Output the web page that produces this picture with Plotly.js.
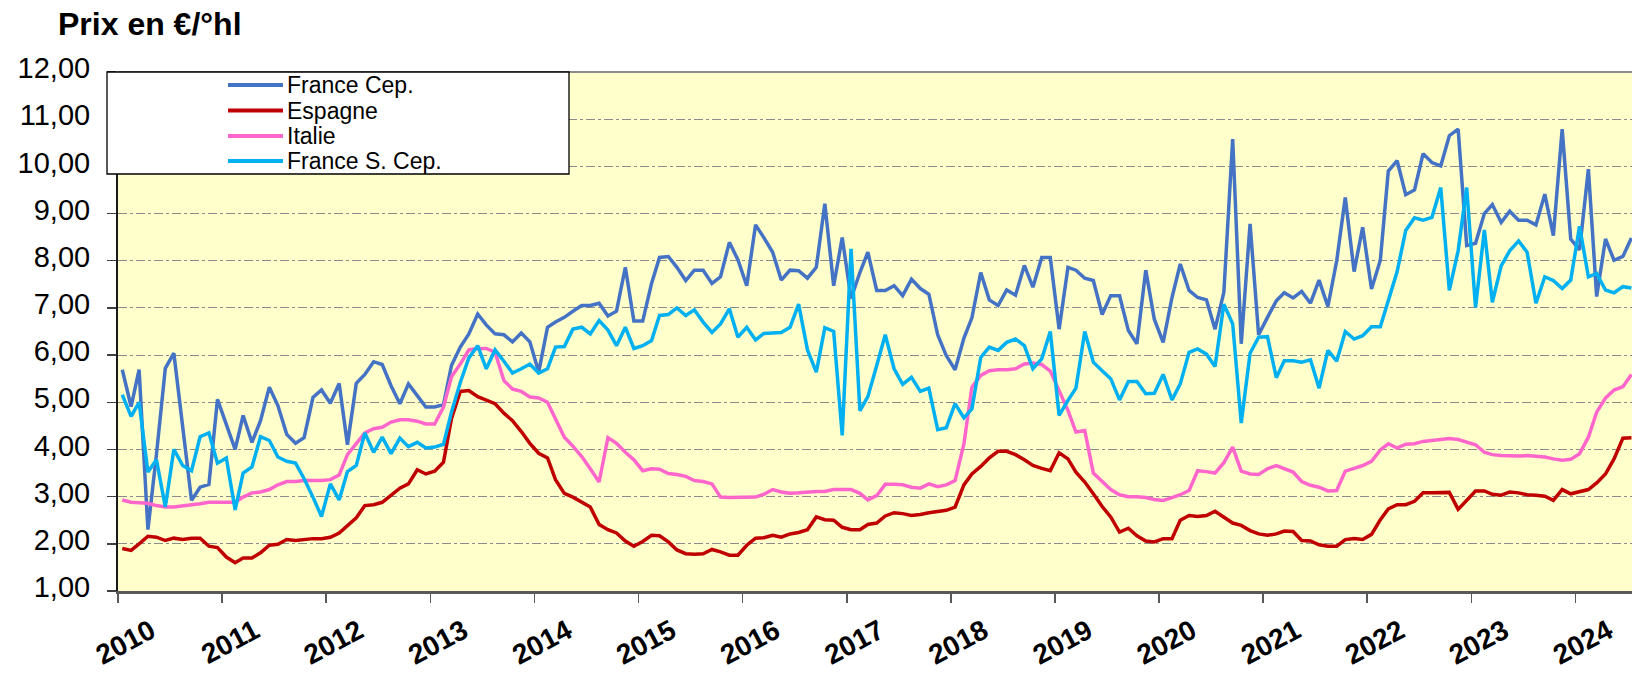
<!DOCTYPE html>
<html>
<head>
<meta charset="utf-8">
<script src="https://cdn.plot.ly/plotly-3.0.1.min.js"></script>
<style>
html,body{margin:0;padding:0;background:#ffffff;}
#chart{width:1632px;height:674px;}
</style>
</head>
<body>
<div id="chart"></div>
<script>
// ---------- DATA ----------
const startYear = 2010;
const yearTicks = ['2010','2011','2012','2013','2014','2015','2016','2017','2018','2019','2020','2021','2022','2023','2024'];
const seriesNames = ['France Cep.', 'Espagne', 'Italie', 'France S. Cep.'];

const franceCep = [
  5.69, 4.91, 5.69, 2.30, 3.90, 5.72, 6.04, 4.40, 2.92, 3.20, 3.26, 5.06,
  4.54, 4.00, 4.72, 4.15, 4.61, 5.32, 4.93, 4.32, 4.13, 4.25, 5.10, 5.26,
  4.98, 5.40, 4.10, 5.40, 5.59, 5.86, 5.80, 5.35, 4.97, 5.39, 5.14, 4.90,
  4.90, 4.95, 5.78, 6.17, 6.45, 6.87, 6.64, 6.45, 6.43, 6.28, 6.47, 6.28,
  5.64, 6.59, 6.70, 6.80, 6.93, 7.05, 7.05, 7.10, 6.83, 6.93, 7.86, 6.72,
  6.72, 7.52, 8.07, 8.09, 7.86, 7.58, 7.80, 7.80, 7.52, 7.66, 8.39, 8.02,
  7.47, 8.76, 8.49, 8.18, 7.59, 7.80, 7.79, 7.63, 7.86, 9.21, 7.47, 8.49,
  7.20, 7.75, 8.18, 7.37, 7.37, 7.47, 7.26, 7.61, 7.41, 7.29, 6.43, 5.99,
  5.69, 6.36, 6.79, 7.75, 7.17, 7.05, 7.38, 7.27, 7.90, 7.44, 8.07, 8.07,
  6.55, 7.86, 7.80, 7.63, 7.58, 6.86, 7.26, 7.26, 6.52, 6.24, 7.80, 6.76,
  6.27, 7.22, 7.93, 7.37, 7.22, 7.17, 6.55, 7.33, 10.58, 6.24, 8.78, 6.43,
  6.80, 7.15, 7.32, 7.21, 7.35, 7.10, 7.59, 7.03, 8.00, 9.34, 7.77, 8.71,
  7.40, 8.01, 9.90, 10.12, 9.40, 9.50, 10.27, 10.08, 10.01, 10.65, 10.79, 8.32,
  8.37, 9.00, 9.19, 8.81, 9.05, 8.86, 8.86, 8.76, 9.41, 8.53, 10.79, 8.46,
  8.23, 9.94, 7.24, 8.46, 8.01, 8.09, 8.48
];

const espagne = [
  1.90, 1.86, 2.00, 2.16, 2.14, 2.07, 2.12, 2.09, 2.12, 2.12, 1.95, 1.92,
  1.72, 1.60, 1.70, 1.70, 1.81, 1.97, 1.99, 2.09, 2.07, 2.09, 2.11, 2.11,
  2.14, 2.23, 2.39, 2.55, 2.81, 2.83, 2.88, 3.03, 3.18, 3.27, 3.57, 3.48,
  3.54, 3.73, 4.65, 5.23, 5.25, 5.12, 5.05, 4.97, 4.77, 4.61, 4.38, 4.13,
  3.92, 3.82, 3.36, 3.07, 2.99, 2.88, 2.78, 2.41, 2.30, 2.23, 2.06, 1.95,
  2.05, 2.18, 2.17, 2.04, 1.87, 1.79, 1.78, 1.79, 1.88, 1.83, 1.76, 1.76,
  1.97, 2.12, 2.13, 2.18, 2.14, 2.21, 2.24, 2.30, 2.57, 2.51, 2.50, 2.35,
  2.30, 2.30, 2.41, 2.44, 2.59, 2.66, 2.64, 2.60, 2.62, 2.66, 2.69, 2.71,
  2.78, 3.25, 3.48, 3.64, 3.82, 3.96, 3.96, 3.89, 3.78, 3.66, 3.60, 3.55,
  3.93, 3.80, 3.52, 3.31, 3.06, 2.79, 2.57, 2.25, 2.33, 2.17, 2.06, 2.04,
  2.11, 2.11, 2.50, 2.60, 2.58, 2.60, 2.69, 2.57, 2.44, 2.39, 2.28, 2.21,
  2.18, 2.21, 2.27, 2.26, 2.07, 2.06, 1.98, 1.95, 1.95, 2.09, 2.11, 2.09,
  2.20, 2.51, 2.74, 2.83, 2.83, 2.90, 3.08, 3.08, 3.09, 3.09, 2.73, 2.92,
  3.12, 3.12, 3.05, 3.03, 3.10, 3.08, 3.04, 3.03, 3.01, 2.92, 3.15, 3.06,
  3.10, 3.15, 3.29, 3.48, 3.80, 4.24, 4.25
];

const italie = [
  2.93, 2.88, 2.87, 2.86, 2.81, 2.78, 2.78, 2.80, 2.83, 2.85, 2.88, 2.88,
  2.88, 2.88, 2.99, 3.08, 3.10, 3.15, 3.25, 3.32, 3.32, 3.34, 3.34, 3.34,
  3.36, 3.46, 3.89, 4.13, 4.35, 4.44, 4.47, 4.58, 4.63, 4.63, 4.60, 4.54,
  4.54, 4.90, 5.54, 5.81, 6.11, 6.14, 6.14, 6.06, 5.46, 5.28, 5.23, 5.11,
  5.09, 5.00, 4.65, 4.26, 4.07, 3.85, 3.59, 3.31, 4.25, 4.13, 3.94, 3.78,
  3.55, 3.59, 3.58, 3.49, 3.47, 3.43, 3.34, 3.32, 3.27, 2.99, 2.98, 2.98,
  2.99, 2.99, 3.05, 3.15, 3.10, 3.07, 3.08, 3.10, 3.11, 3.11, 3.15, 3.15,
  3.15, 3.07, 2.93, 3.02, 3.26, 3.26, 3.25, 3.20, 3.18, 3.27, 3.21, 3.25,
  3.34, 4.12, 5.32, 5.57, 5.67, 5.69, 5.69, 5.71, 5.81, 5.83, 5.80, 5.66,
  5.25, 4.83, 4.37, 4.40, 3.50, 3.31, 3.15, 3.04, 3.00, 3.00, 2.98, 2.94,
  2.92, 2.98, 3.04, 3.13, 3.55, 3.53, 3.50, 3.72, 4.05, 3.54, 3.48, 3.47,
  3.59, 3.66, 3.59, 3.52, 3.32, 3.24, 3.20, 3.12, 3.13, 3.54, 3.60, 3.66,
  3.75, 3.99, 4.12, 4.03, 4.11, 4.12, 4.17, 4.19, 4.21, 4.23, 4.21, 4.15,
  4.10, 3.94, 3.89, 3.87, 3.86, 3.86, 3.87, 3.86, 3.84, 3.80, 3.77, 3.79,
  3.91, 4.26, 4.79, 5.09, 5.26, 5.33, 5.59
];

const franceSCep = [
  5.16, 4.70, 5.00, 3.52, 3.78, 2.78, 4.00, 3.66, 3.55, 4.27, 4.35, 3.71,
  3.82, 2.72, 3.50, 3.63, 4.27, 4.19, 3.84, 3.75, 3.71, 3.38, 2.99, 2.58,
  3.27, 2.93, 3.53, 3.66, 4.35, 3.94, 4.26, 3.91, 4.24, 4.06, 4.15, 4.03,
  4.05, 4.11, 4.79, 5.42, 5.94, 6.20, 5.71, 6.11, 5.87, 5.62, 5.71, 5.81,
  5.62, 5.71, 6.17, 6.18, 6.55, 6.59, 6.45, 6.73, 6.53, 6.20, 6.59, 6.14,
  6.20, 6.31, 6.84, 6.86, 7.00, 6.84, 6.96, 6.70, 6.48, 6.66, 6.98, 6.38,
  6.59, 6.32, 6.46, 6.47, 6.48, 6.59, 7.08, 6.11, 5.64, 6.58, 6.50, 4.30,
  8.25, 4.82, 5.12, 5.78, 6.43, 5.71, 5.38, 5.53, 5.23, 5.30, 4.42, 4.46,
  4.97, 4.67, 4.86, 5.95, 6.17, 6.10, 6.27, 6.34, 6.20, 5.71, 5.92, 6.50,
  4.72, 5.04, 5.30, 6.50, 5.85, 5.67, 5.50, 5.05, 5.44, 5.44, 5.18, 5.19,
  5.59, 5.05, 5.39, 6.06, 6.13, 6.02, 5.76, 7.08, 6.66, 4.56, 6.04, 6.38,
  6.39, 5.52, 5.88, 5.88, 5.85, 5.90, 5.30, 6.10, 5.87, 6.50, 6.34, 6.41,
  6.60, 6.60, 7.15, 7.77, 8.64, 8.91, 8.86, 8.92, 9.55, 7.37, 8.21, 9.55,
  7.01, 8.65, 7.12, 7.89, 8.21, 8.42, 8.18, 7.10, 7.66, 7.58, 7.41, 7.59,
  8.73, 7.66, 7.73, 7.38, 7.32, 7.45, 7.42
];

// months (categories): one per value, mid-month dates
const months = franceCep.map((_, i) => {
  const y = startYear + Math.floor(i / 12);
  const m = String(i % 12 + 1).padStart(2, '0');
  return y + '-' + m + '-16';
});

// ---------- STYLE ----------
const FONT = 'Liberation Sans, Arial, Helvetica, sans-serif';
const colors = ['#4472C4', '#C00000', '#FF66CC', '#00B0F0'];
const allSeries = [franceCep, espagne, italie, franceSCep];

const W = 1632, H = 674;
const M = {l: 118, r: 0, t: 72, b: 83};
const PW = W - M.l - M.r, PH = H - M.t - M.b;
const px2x = p => (p - M.l) / PW;
const py2y = p => (H - M.b - p) / PH;

const traces = allSeries.map((vals, k) => ({
  type: 'scatter',
  mode: 'lines',
  name: seriesNames[k],
  x: months,
  y: vals,
  line: {color: colors[k], width: 3.5},
  showlegend: false,
  hoverinfo: 'x+y+name'
}));

// custom legend box (Excel style)
const legendRows = [85, 110.5, 136, 161];
const shapes = [
  {type: 'line', xref: 'paper', yref: 'paper', x0: 0, x1: 1, y0: 1, y1: 1,
   line: {color: '#8c8c8c', width: 2}, layer: 'above'},
  {type: 'rect', xref: 'paper', yref: 'paper',
   x0: px2x(107), x1: px2x(569), y0: py2y(174), y1: py2y(72),
   fillcolor: '#ffffff', line: {color: '#000000', width: 1.3}, layer: 'above'}
];
const annotations = [];
seriesNames.forEach((nm, k) => {
  shapes.push({type: 'line', xref: 'paper', yref: 'paper',
    x0: px2x(228), x1: px2x(283), y0: py2y(legendRows[k]), y1: py2y(legendRows[k]),
    line: {color: colors[k], width: 4}, layer: 'above'});
  annotations.push({xref: 'paper', yref: 'paper', x: px2x(285), y: py2y(legendRows[k]),
    xanchor: 'left', yanchor: 'middle', showarrow: false, text: nm,
    font: {family: FONT, size: 23, color: '#000000'}});
});

const layout = {
  width: W, height: H,
  margin: {l: M.l, r: M.r, t: M.t, b: M.b, pad: 0},
  paper_bgcolor: '#ffffff',
  plot_bgcolor: '#FFFFCC',
  separators: ', ',
  showlegend: false,
  font: {family: FONT, color: '#000000'},
  title: {
    text: 'Prix en €/°hl',
    xref: 'container', yref: 'container',
    x: 58 / W, xanchor: 'left',
    y: 1 - 24 / H, yanchor: 'middle',
    font: {family: FONT, size: 32, weight: 'bold', color: '#000000'}
  },
  xaxis: {
    type: 'date',
    range: ['2010-01-01', '2024-07-18'],
    tickmode: 'array',
    tickvals: yearTicks.map(y => y + '-01-01'),
    ticktext: yearTicks,
    tickangle: -28,
    tickfont: {family: FONT, size: 28, weight: 'bold', color: '#000000'},
    ticks: 'outside', ticklen: 9, tickwidth: 1.5, tickcolor: '#595959',
    ticklabelshift: 33,
    ticklabelstandoff: 1,
    showline: true, linecolor: '#595959', linewidth: 3,
    showgrid: false, zeroline: false, fixedrange: true
  },
  yaxis: {
    range: [1, 12],
    tickmode: 'linear', tick0: 0, dtick: 1,
    tickformat: '.2f',
    tickfont: {family: FONT, size: 29, color: '#000000'},
    ticks: 'outside', ticklen: 9, tickwidth: 1.5, tickcolor: '#404040',
    ticklabelstandoff: 11,
    ticklabelshift: -4,
    showline: true, linecolor: '#1a1a1a', linewidth: 2,
    showgrid: true, gridcolor: '#8c8c8c', gridwidth: 1, griddash: 'dashdot',
    zeroline: false, fixedrange: true
  },
  shapes: shapes,
  annotations: annotations
};

Plotly.newPlot('chart', traces, layout, {displayModeBar: false, staticPlot: true});
</script>
</body>
</html>
